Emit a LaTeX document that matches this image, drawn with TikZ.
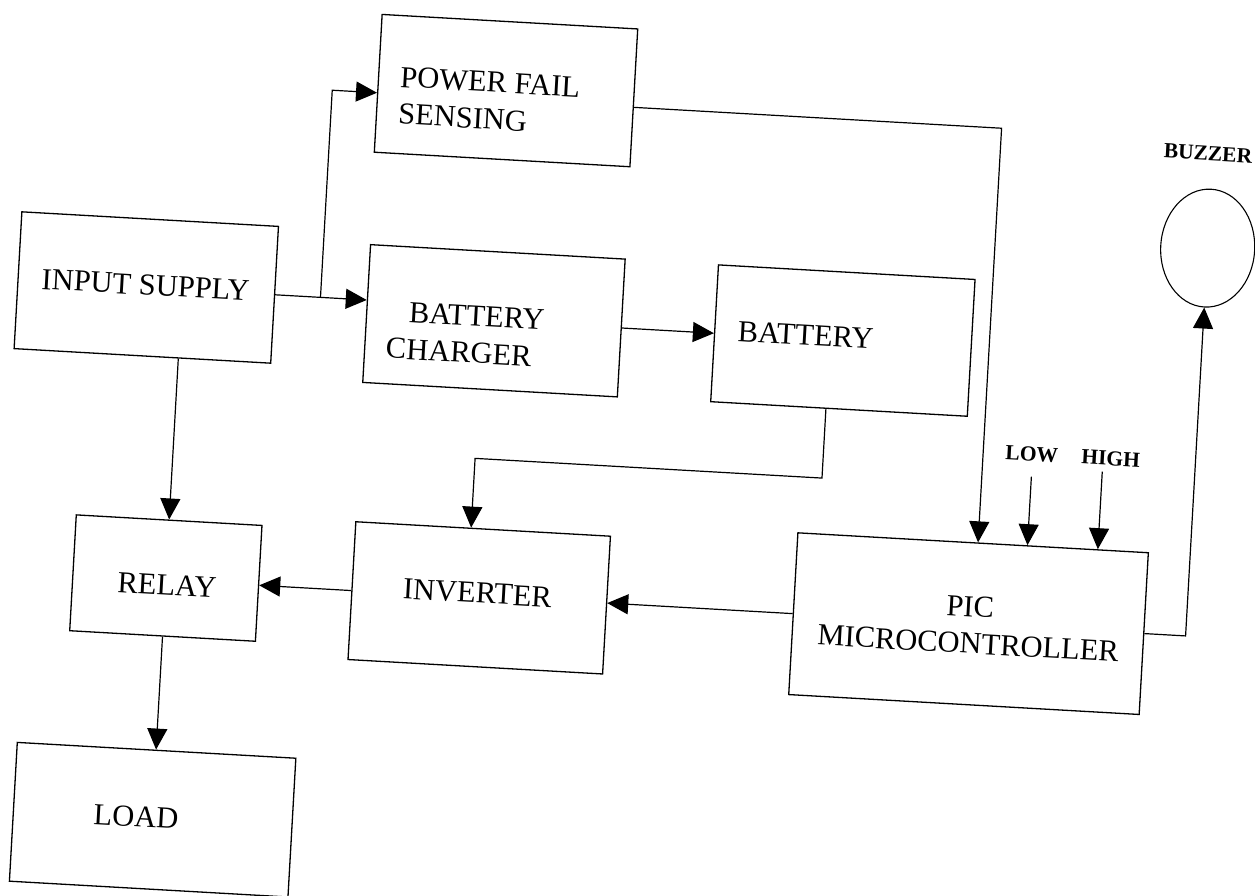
\documentclass[tikz,border=0pt]{standalone}
\usepackage{fontspec}
\setmainfont{Liberation Serif}
\usetikzlibrary{arrows.meta,shapes.geometric}
\begin{document}
\begin{tikzpicture}[x=1pt,y=1pt,
  box/.style={draw, line width=1.3pt, inner sep=0pt},
  arr/.style={line width=1.2pt, -{Triangle[length=21pt,width=20pt]}},
  txt/.style={inner sep=0pt, font=\fontsize{30.5}{37}\selectfont},
  lbl/.style={inner sep=0pt, font=\fontsize{21.5}{26}\selectfont\bfseries}]
\useasboundingbox (0,0) rectangle (1255,-895);
\fill[white] (0,0) rectangle (1255,-895);
\clip (0,0) rectangle (1255,-895);
\begin{scope}[rotate around={-3.25:(627,-447)}, transform shape]
  % boxes
  \node[box, minimum width=256pt, minimum height=138pt] (pf) at (486,-98) {};
  \node[box, minimum width=257pt, minimum height=137pt] (input) at (138,-315) {};
  \node[box, minimum width=255pt, minimum height=138pt] (charger) at (487,-328.5) {};
  \node[box, minimum width=257pt, minimum height=137pt] (battery) at (836.5,-328.5) {};
  \node[box, minimum width=186pt, minimum height=116pt] (relay) at (174,-604) {};
  \node[box, minimum width=255pt, minimum height=138pt] (inverter) at (488,-606) {};
  \node[box, minimum width=351pt, minimum height=162pt] (pic) at (978,-604) {};
  \node[box, minimum width=279pt, minimum height=139pt] (load) at (174.5,-846) {};
  \node[draw, ellipse, line width=1.1pt, inner sep=0pt, minimum width=94pt, minimum height=118pt] (buzzer) at (1195.5,-215.5) {};
  % texts
  \node[txt, align=left, anchor=west] (pft) at (379.7,-109) {POWER FAIL\\SENSING};
  \node[txt, align=left, anchor=west] (chargert) at (380.6,-343.4) {\hspace*{21pt}BATTERY\\CHARGER};
  \node[txt, anchor=west] (batteryt) at (731,-325) {BATTERY};
  \node[txt] (inputt) at (137.1,-312.6) {INPUT SUPPLY};
  \node[txt] (relayt) at (175.6,-610.9) {RELAY};
  \node[txt] (invertert) at (486,-601.5) {INVERTER};
  \node[txt, align=center] (pict) at (978.8,-605.3) {PIC\\MICROCONTROLLER};
  \node[txt] (loadt) at (157.8,-843.9) {LOAD};
  \node[lbl] (buzzert) at (1190.5,-121) {BUZZER};
  \node[lbl] (low) at (1031.6,-431) {LOW};
  \node[lbl] (high) at (1110.6,-431) {HIGH};
  % helper coordinates
  \coordinate (br) at (312.5,-315);
  \coordinate (pfio) at (0,-107.5);
  \coordinate (pfdown) at (983,0);
  \coordinate (batout) at (823.5,0);
  \coordinate (invin) at (476,0);
  \coordinate (bend) at (0,-467);
  \coordinate (lowtop) at (1032.5,-453.7);
  \coordinate (hightop) at (1103,-444.7);
  % connectors
  \draw[arr] (input.east) -- (input.east -| charger.west);
  \draw[arr] (br) |- (pf.west |- pfio);
  \draw[arr] (input.south -| relay.north) -- (relay.north);
  \draw[arr] (charger.east) -- (charger.east -| battery.west);
  \draw[arr] (pf.east |- pfio) -| (pfdown |- pic.north);
  \draw[arr] (batout |- battery.south) |- (invin |- bend) -- (invin |- inverter.north);
  \draw[arr] (pic.west) -- (pic.west -| inverter.east);
  \draw[arr] (inverter.west) -- (inverter.west -| relay.east);
  \draw[arr] (relay.south) -- (relay.south |- load.north);
  \draw[arr] (pic.east) -| (buzzer.south);
  \draw[arr] (lowtop) -- (lowtop |- pic.north);
  \draw[arr] (hightop) -- (hightop |- pic.north);
\end{scope}
\end{tikzpicture}
\end{document}
